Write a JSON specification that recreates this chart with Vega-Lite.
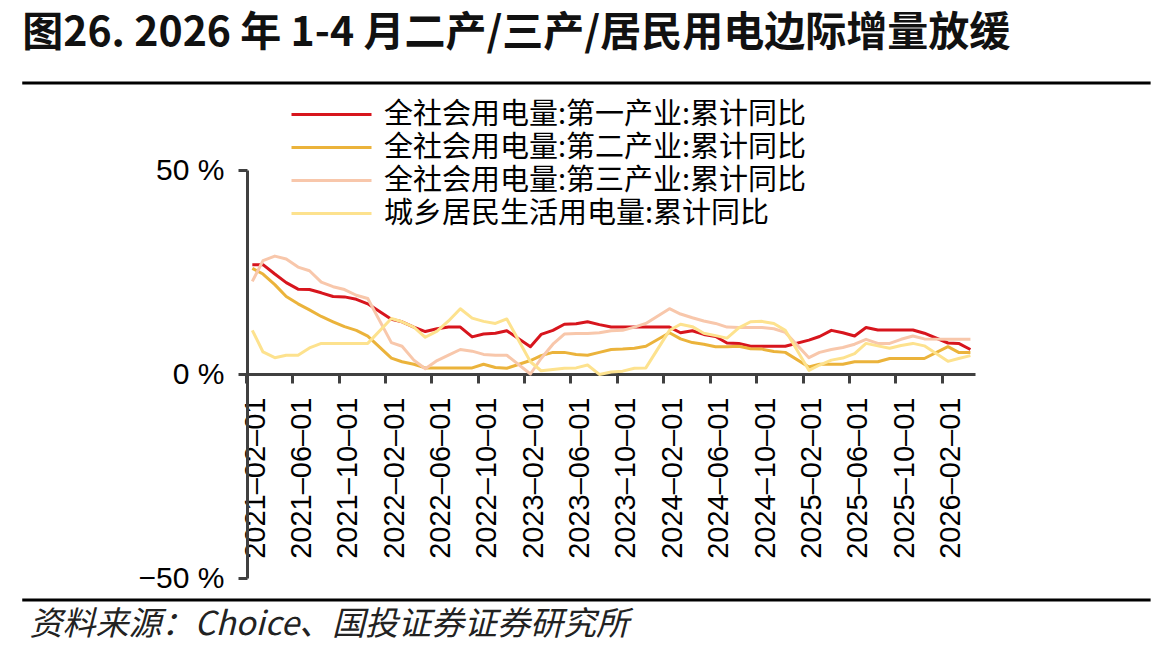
{
  "$schema": "https://vega.github.io/schema/vega-lite/v6.json",
  "width": 728,
  "height": 408,
  "autosize": {"type": "none"},
  "padding": {"left": 247, "top": 170, "right": 198, "bottom": 75},
  "background": "white",
  "config": {"view": {"stroke": null}, "font": "Liberation Sans"},
  "data": {"values": [
    {"m": "2021-02-01", "a": 26.8, "b": 25.9, "c": 22.7, "d": 10.7},
    {"m": "2021-03-01", "a": 26.8, "b": 24.5, "c": 27.8, "d": 5.4},
    {"m": "2021-04-01", "a": 24.5, "b": 21.9, "c": 28.9, "d": 4.0},
    {"m": "2021-05-01", "a": 22.4, "b": 19.0, "c": 28.2, "d": 4.6},
    {"m": "2021-06-01", "a": 20.8, "b": 17.2, "c": 26.2, "d": 4.6},
    {"m": "2021-07-01", "a": 20.7, "b": 15.7, "c": 25.3, "d": 6.4},
    {"m": "2021-08-01", "a": 19.9, "b": 14.1, "c": 22.5, "d": 7.5},
    {"m": "2021-09-01", "a": 19.0, "b": 12.8, "c": 21.4, "d": 7.5},
    {"m": "2021-10-01", "a": 18.9, "b": 11.6, "c": 20.7, "d": 7.5},
    {"m": "2021-11-01", "a": 18.3, "b": 10.7, "c": 19.3, "d": 7.5},
    {"m": "2021-12-01", "a": 17.2, "b": 9.3, "c": 18.5, "d": 7.5},
    {"m": "2022-02-01", "a": 13.4, "b": 3.9, "c": 7.7, "d": 13.6},
    {"m": "2022-03-01", "a": 12.8, "b": 3.0, "c": 6.8, "d": 12.8},
    {"m": "2022-04-01", "a": 11.5, "b": 2.4, "c": 3.4, "d": 11.5},
    {"m": "2022-05-01", "a": 10.4, "b": 1.5, "c": 1.3, "d": 9.0},
    {"m": "2022-06-01", "a": 11.1, "b": 1.5, "c": 3.3, "d": 10.5},
    {"m": "2022-07-01", "a": 11.5, "b": 1.5, "c": 4.6, "d": 13.0},
    {"m": "2022-08-01", "a": 11.5, "b": 1.5, "c": 6.0, "d": 16.0},
    {"m": "2022-09-01", "a": 9.1, "b": 1.5, "c": 5.6, "d": 13.7},
    {"m": "2022-10-01", "a": 9.8, "b": 2.4, "c": 4.8, "d": 12.9},
    {"m": "2022-11-01", "a": 10.0, "b": 1.6, "c": 4.6, "d": 12.4},
    {"m": "2022-12-01", "a": 10.6, "b": 1.4, "c": 4.6, "d": 13.5},
    {"m": "2023-02-01", "a": 6.7, "b": 3.3, "c": 0.0, "d": 3.0},
    {"m": "2023-03-01", "a": 9.7, "b": 4.5, "c": 3.8, "d": 0.8},
    {"m": "2023-04-01", "a": 10.7, "b": 5.3, "c": 7.3, "d": 1.1},
    {"m": "2023-05-01", "a": 12.2, "b": 5.3, "c": 9.8, "d": 1.4},
    {"m": "2023-06-01", "a": 12.3, "b": 4.8, "c": 9.9, "d": 1.5},
    {"m": "2023-07-01", "a": 12.8, "b": 4.6, "c": 9.9, "d": 2.2},
    {"m": "2023-08-01", "a": 12.1, "b": 5.3, "c": 10.1, "d": -0.1},
    {"m": "2023-09-01", "a": 11.5, "b": 6.0, "c": 10.6, "d": 0.5},
    {"m": "2023-10-01", "a": 11.5, "b": 6.1, "c": 10.7, "d": 0.7},
    {"m": "2023-11-01", "a": 11.5, "b": 6.3, "c": 11.5, "d": 1.4},
    {"m": "2023-12-01", "a": 11.5, "b": 6.8, "c": 12.4, "d": 1.5},
    {"m": "2024-02-01", "a": 11.5, "b": 10.1, "c": 16.0, "d": 10.7},
    {"m": "2024-03-01", "a": 10.1, "b": 8.6, "c": 14.7, "d": 12.2},
    {"m": "2024-04-01", "a": 10.6, "b": 7.7, "c": 13.8, "d": 11.6},
    {"m": "2024-05-01", "a": 9.7, "b": 7.3, "c": 13.0, "d": 10.0},
    {"m": "2024-06-01", "a": 9.2, "b": 6.7, "c": 12.4, "d": 9.4},
    {"m": "2024-07-01", "a": 7.6, "b": 6.7, "c": 11.5, "d": 8.8},
    {"m": "2024-08-01", "a": 7.5, "b": 6.8, "c": 11.4, "d": 11.3},
    {"m": "2024-09-01", "a": 6.8, "b": 6.2, "c": 11.4, "d": 12.8},
    {"m": "2024-10-01", "a": 6.8, "b": 6.1, "c": 11.4, "d": 12.9},
    {"m": "2024-11-01", "a": 6.8, "b": 5.5, "c": 11.1, "d": 12.4},
    {"m": "2024-12-01", "a": 6.8, "b": 5.3, "c": 10.2, "d": 10.7},
    {"m": "2025-02-01", "a": 8.3, "b": 1.7, "c": 4.0, "d": 0.9},
    {"m": "2025-03-01", "a": 9.2, "b": 2.4, "c": 5.3, "d": 2.2},
    {"m": "2025-04-01", "a": 10.7, "b": 2.4, "c": 6.0, "d": 3.4},
    {"m": "2025-05-01", "a": 10.1, "b": 2.4, "c": 6.5, "d": 3.9},
    {"m": "2025-06-01", "a": 9.3, "b": 3.0, "c": 7.3, "d": 5.0},
    {"m": "2025-07-01", "a": 11.4, "b": 3.0, "c": 8.5, "d": 7.5},
    {"m": "2025-08-01", "a": 10.8, "b": 3.0, "c": 7.5, "d": 6.9},
    {"m": "2025-09-01", "a": 10.8, "b": 3.8, "c": 7.5, "d": 6.3},
    {"m": "2025-10-01", "a": 10.8, "b": 3.8, "c": 8.5, "d": 7.0},
    {"m": "2025-11-01", "a": 10.8, "b": 3.8, "c": 9.3, "d": 7.5},
    {"m": "2025-12-01", "a": 10.0, "b": 3.8, "c": 8.6, "d": 6.9},
    {"m": "2026-02-01", "a": 7.6, "b": 6.7, "c": 8.5, "d": 3.1},
    {"m": "2026-03-01", "a": 7.5, "b": 5.3, "c": 8.5, "d": 3.8},
    {"m": "2026-04-01", "a": 6.0, "b": 5.3, "c": 8.5, "d": 4.5}
  ]},
  "layer": [
    {
      "transform": [{"fold": ["a", "b", "c", "d"], "as": ["k", "v"]}],
      "mark": {"type": "line", "strokeWidth": 3, "strokeJoin": "round"},
      "encoding": {
        "x": {
          "field": "m", "type": "temporal",
          "scale": {"type": "utc", "domain": [
            {"year": 2021, "month": 1, "date": 18, "utc": true},
            {"year": 2026, "month": 4, "date": 13, "utc": true}
          ]},
          "axis": {
            "title": null, "orient": "bottom", "offset": -204, "grid": false,
            "values": [
              {"year": 2021, "month": 2, "date": 1, "utc": true},
              {"year": 2021, "month": 6, "date": 1, "utc": true},
              {"year": 2021, "month": 10, "date": 1, "utc": true},
              {"year": 2022, "month": 2, "date": 1, "utc": true},
              {"year": 2022, "month": 6, "date": 1, "utc": true},
              {"year": 2022, "month": 10, "date": 1, "utc": true},
              {"year": 2023, "month": 2, "date": 1, "utc": true},
              {"year": 2023, "month": 6, "date": 1, "utc": true},
              {"year": 2023, "month": 10, "date": 1, "utc": true},
              {"year": 2024, "month": 2, "date": 1, "utc": true},
              {"year": 2024, "month": 6, "date": 1, "utc": true},
              {"year": 2024, "month": 10, "date": 1, "utc": true},
              {"year": 2025, "month": 2, "date": 1, "utc": true},
              {"year": 2025, "month": 6, "date": 1, "utc": true},
              {"year": 2025, "month": 10, "date": 1, "utc": true},
              {"year": 2026, "month": 2, "date": 1, "utc": true}
            ],
            "labelExpr": "utcFormat(datum.value, '%Y–%m–%d')",
            "labelAngle": 270, "labelAlign": "right", "labelBaseline": "middle",
            "labelFontSize": 29, "labelFont": "Liberation Sans", "labelColor": "#000",
            "labelPadding": 14, "labelOverlap": false, "labelBound": false, "labelFlush": false,
            "tickSize": 9, "tickWidth": 3, "tickColor": "#404040", "tickOffset": -6, "labelOffset": 9,
            "domainColor": "#404040", "domainWidth": 3
          }
        },
        "y": {
          "field": "v", "type": "quantitative",
          "scale": {"domain": [-50, 50], "nice": false, "zero": false},
          "axis": {
            "title": null, "values": [-50, 0, 50], "grid": false,
            "labelExpr": "datum.label + ' %'",
            "labelFontSize": 30, "labelFont": "Liberation Sans", "labelColor": "#000", "labelPadding": 14,
            "tickSize": 9, "tickWidth": 3, "tickColor": "#404040",
            "domainColor": "#404040", "domainWidth": 3
          }
        },
        "color": {
          "field": "k", "type": "nominal",
          "scale": {"domain": ["a", "b", "c", "d"], "range": ["#d7151d", "#ebb33b", "#f8c7ab", "#fde28e"]},
          "legend": {
            "title": null, "orient": "none", "legendX": 70, "legendY": -70,
            "symbolType": "M-4,0L4,0", "symbolSize": 400, "symbolStrokeWidth": 3,
            "labelFontSize": 29, "labelFont": "Noto Sans CJK SC", "labelColor": "#000",
            "labelLimit": 0, "labelOffset": 38, "rowPadding": 3,
            "labelExpr": "datum.value == 'a' ? '全社会用电量:第一产业:累计同比' : datum.value == 'b' ? '全社会用电量:第二产业:累计同比' : datum.value == 'c' ? '全社会用电量:第三产业:累计同比' : '城乡居民生活用电量:累计同比'"
          }
        }
      }
    },
    {
      "data": {"values": [{}]},
      "mark": {"type": "rule", "strokeWidth": 3, "color": "#000"},
      "encoding": {
        "x": {"datum": {"year": 2019, "month": 6, "date": 8, "utc": true}, "type": "temporal"},
        "x2": {"datum": {"year": 2027, "month": 7, "date": 18, "utc": true}},
        "y": {"datum": 71.3, "type": "quantitative"}
      }
    },
    {
      "data": {"values": [{}]},
      "mark": {"type": "rule", "strokeWidth": 3, "color": "#000"},
      "encoding": {
        "x": {"datum": {"year": 2019, "month": 6, "date": 8, "utc": true}, "type": "temporal"},
        "x2": {"datum": {"year": 2027, "month": 7, "date": 18, "utc": true}},
        "y": {"datum": -55.4, "type": "quantitative"}
      }
    },
    {
      "data": {"values": [{}]},
      "mark": {"type": "text", "align": "left", "baseline": "middle", "font": "Noto Sans CJK SC", "fontSize": 41, "fontWeight": "bold", "color": "#111"},
      "encoding": {
        "x": {"datum": {"year": 2019, "month": 6, "date": 8, "utc": true}, "type": "temporal"},
        "y": {"datum": 83.3, "type": "quantitative"},
        "text": {"value": "图26. 2026 年 1-4 月二产/三产/居民用电边际增量放缓"}
      }
    },
    {
      "data": {"values": [{}]},
      "mark": {"type": "text", "align": "left", "baseline": "middle", "font": "Noto Sans CJK SC", "fontSize": 33, "fontStyle": "italic", "color": "#222"},
      "encoding": {
        "x": {"datum": {"year": 2019, "month": 6, "date": 27, "utc": true}, "type": "temporal"},
        "y": {"datum": -61.5, "type": "quantitative"},
        "text": {"value": "资料来源：Choice、国投证券证券研究所"}
      }
    }
  ]
}
